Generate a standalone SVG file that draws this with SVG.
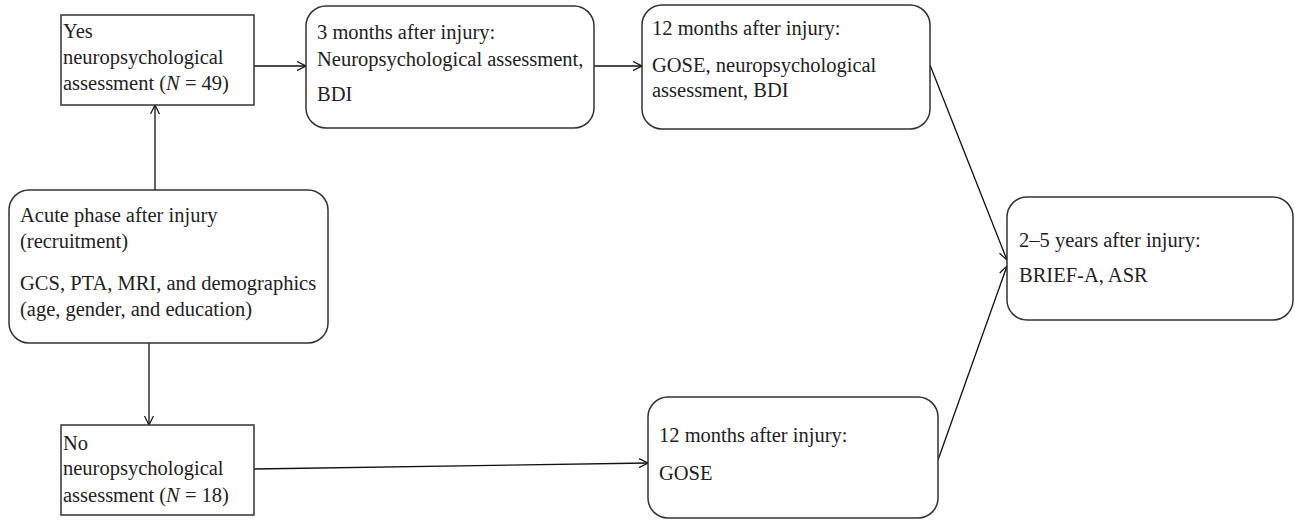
<svg xmlns="http://www.w3.org/2000/svg" width="1295" height="520" viewBox="0 0 1295 520">
<style>
.box{fill:#fff;stroke:#333;stroke-width:1.5}
.t{font-family:'Liberation Serif','DejaVu Serif',serif;font-size:20.5px;fill:#222}
.c{fill:none;stroke:#111;stroke-width:1.3}
</style>
<defs>
<marker id="arr" viewBox="0 0 10 10" refX="10" refY="5" markerWidth="10" markerHeight="10" markerUnits="userSpaceOnUse" orient="auto">
<path d="M1,0.5 L10,5 L1,9.5" fill="none" stroke="#111" stroke-width="1.2"/>
</marker>
</defs>
<rect width="1295" height="520" fill="#fff"/>
<g id="connectors">
<line class="c" x1="254" y1="66" x2="306" y2="66" marker-end="url(#arr)"/>
<line class="c" x1="594" y1="66" x2="642" y2="66" marker-end="url(#arr)"/>
<line class="c" x1="155" y1="190" x2="155" y2="105" marker-end="url(#arr)"/>
<line class="c" x1="149" y1="343" x2="149" y2="425" marker-end="url(#arr)"/>
<line class="c" x1="254" y1="469" x2="648" y2="463" marker-end="url(#arr)"/>
<line class="c" x1="930" y1="65" x2="1007" y2="260" marker-end="url(#arr)"/>
<line class="c" x1="938" y1="460" x2="1007" y2="266" marker-end="url(#arr)"/>
</g>
<g id="yes">
<rect class="box" x="61" y="15" width="193" height="90"/>
<text class="t" x="63" y="38">Yes</text>
<text class="t" x="63" y="64">neuropsychological</text>
<text class="t" x="63" y="90">assessment (<tspan font-style="italic">N</tspan> = 49)</text>
</g>
<g id="m3">
<rect class="box" x="306" y="6" width="288" height="122" rx="20"/>
<text class="t" x="317" y="39">3 months after injury:</text>
<text class="t" x="317" y="66">Neuropsychological assessment,</text>
<text class="t" x="317" y="101">BDI</text>
</g>
<g id="m12a">
<rect class="box" x="642" y="5" width="288" height="124" rx="20"/>
<text class="t" x="652" y="35">12 months after injury:</text>
<text class="t" x="652" y="72">GOSE, neuropsychological</text>
<text class="t" x="652" y="97">assessment, BDI</text>
</g>
<g id="acute">
<rect class="box" x="9" y="190" width="319" height="153" rx="20"/>
<text class="t" x="20" y="222">Acute phase after injury</text>
<text class="t" x="20" y="248">(recruitment)</text>
<text class="t" x="20" y="290">GCS, PTA, MRI, and demographics</text>
<text class="t" x="20" y="316">(age, gender, and education)</text>
</g>
<g id="no">
<rect class="box" x="61" y="425" width="193" height="90"/>
<text class="t" x="63" y="450">No</text>
<text class="t" x="63" y="475">neuropsychological</text>
<text class="t" x="63" y="502">assessment (<tspan font-style="italic">N</tspan> = 18)</text>
</g>
<g id="m12b">
<rect class="box" x="648" y="397" width="290" height="121" rx="20"/>
<text class="t" x="659" y="442">12 months after injury:</text>
<text class="t" x="659" y="480">GOSE</text>
</g>
<g id="y25">
<rect class="box" x="1007" y="197" width="286" height="123" rx="20"/>
<text class="t" x="1019" y="247">2–5 years after injury:</text>
<text class="t" x="1019" y="282">BRIEF-A, ASR</text>
</g>
</svg>
